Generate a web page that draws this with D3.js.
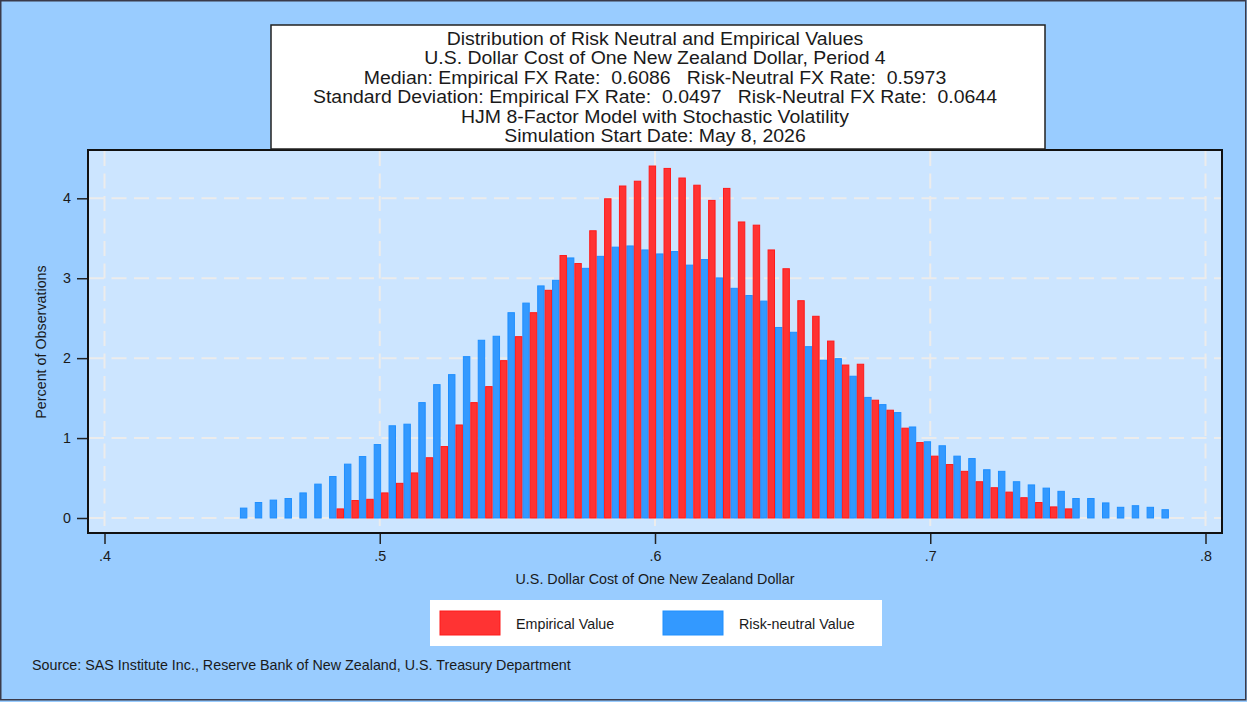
<!DOCTYPE html>
<html>
<head>
<meta charset="utf-8">
<script src="https://cdn.jsdelivr.net/npm/d3@7"></script>
<style>
  html, body { margin: 0; padding: 0; background: #99ccff; }
  svg { display: block; }
  text { font-family: "Liberation Sans", Arial, Helvetica, sans-serif; fill: #1a1a1a; }
</style>
</head>
<body>
<svg id="chart" width="1247" height="702"></svg>
<script>
// ---------------- data ----------------
const titleLines = [
  "Distribution of Risk Neutral and Empirical Values",
  "U.S. Dollar Cost of One New Zealand Dollar, Period 4",
  "Median: Empirical FX Rate:  0.6086   Risk-Neutral FX Rate:  0.5973",
  "Standard Deviation: Empirical FX Rate:  0.0497   Risk-Neutral FX Rate:  0.0644",
  "HJM 8-Factor Model with Stochastic Volatility",
  "Simulation Start Date: May 8, 2026"
];
// bin centres (USD per NZD)
const bins = [
  0.4492, 0.4546, 0.4600, 0.4654, 0.4708, 0.4762, 0.4816, 0.4870, 0.4924, 0.4978,
  0.5032, 0.5086, 0.5140, 0.5194, 0.5248, 0.5302, 0.5356, 0.5410, 0.5464, 0.5518,
  0.5572, 0.5626, 0.5680, 0.5734, 0.5788, 0.5842, 0.5896, 0.5950, 0.6004, 0.6058,
  0.6112, 0.6166, 0.6220, 0.6274, 0.6328, 0.6382, 0.6436, 0.6490, 0.6544, 0.6598,
  0.6652, 0.6706, 0.6760, 0.6814, 0.6868, 0.6922, 0.6976, 0.7030, 0.7084, 0.7138,
  0.7192, 0.7246, 0.7300, 0.7354, 0.7408, 0.7462, 0.7516, 0.7570, 0.7624, 0.7678,
  0.7732, 0.7786, 0.7840
];
// Risk-neutral value, percent of observations
const riskNeutral = [
  0.13, 0.20, 0.23, 0.25, 0.32, 0.43, 0.525, 0.68, 0.775, 0.925,
  1.16, 1.18, 1.45, 1.675, 1.80, 2.025, 2.23, 2.28, 2.575, 2.695,
  2.91, 2.98, 3.26, 3.13, 3.28, 3.395, 3.41, 3.36, 3.31, 3.34,
  3.17, 3.24, 3.01, 2.88, 2.79, 2.72, 2.39, 2.33, 2.15, 1.98,
  2.00, 1.78, 1.515, 1.425, 1.325, 1.145, 0.96, 0.91, 0.78, 0.75,
  0.61, 0.59, 0.46, 0.42, 0.38, 0.34, 0.25, 0.25, 0.195, 0.14,
  0.16, 0.14, 0.11
];
// Empirical value, percent of observations (null = no observations)
const empirical = [
  null, null, null, null, null, null, null, 0.12, 0.225, 0.24,
  0.32, 0.44, 0.57, 0.76, 0.90, 1.17, 1.45, 1.65, 1.975, 2.275,
  2.575, 2.855, 3.29, 3.19, 3.60, 4.00, 4.16, 4.22, 4.41, 4.38,
  4.26, 4.17, 3.98, 4.13, 3.71, 3.67, 3.36, 3.125, 2.725, 2.53,
  2.22, 1.92, 1.93, 1.48, 1.355, 1.13, 0.95, 0.78, 0.675, 0.59,
  0.46, 0.385, 0.33, 0.26, 0.20, 0.145, 0.12, null, null, null,
  null, null, null
];
const xTicks = [0.4, 0.5, 0.6, 0.7, 0.8];
const yTicks = [0, 1, 2, 3, 4];
const halfBin = 0.0027;
const legendItems = [
  {label: "Empirical Value", fill: "#ff3333", stroke: "#ff1a1a"},
  {label: "Risk-neutral Value", fill: "#3399ff", stroke: "#1f8fff"}
];
const xTitle = "U.S. Dollar Cost of One New Zealand Dollar";
const yTitle = "Percent of Observations";
const sourceText = "Source: SAS Institute Inc., Reserve Bank of New Zealand, U.S. Treasury Department";

// ---------------- layout ----------------
const svg = d3.select("#chart");
const W = 1247, H = 702;
const frame = {left: 88, right: 1222, top: 150, bottom: 533};
const FS = 14.3;

svg.append("rect").attr("x", 0).attr("y", 0).attr("width", W).attr("height", H).attr("fill", "#99ccff");
svg.append("rect").attr("x", 0.75).attr("y", 0.75).attr("width", W - 2).attr("height", H - 3)
  .attr("fill", "none").attr("stroke", "#3a3a4a").attr("stroke-width", 1.5);

const x = d3.scaleLinear().domain([0.4, 0.8]).range([104.5, 1205.5]);
const y = d3.scaleLinear().domain([0, 4]).range([518, 198.3]);

// plot region
svg.append("rect").attr("x", frame.left).attr("y", frame.top)
  .attr("width", frame.right - frame.left).attr("height", frame.bottom - frame.top)
  .attr("fill", "#cce5ff");

// grid
const grid = svg.append("g").attr("stroke", "#ececec").attr("stroke-width", 2).attr("stroke-dasharray", "15,7.5");
grid.selectAll("line.h").data(yTicks).join("line").attr("class", "h")
  .attr("x1", frame.left + 1).attr("x2", frame.right - 1)
  .attr("y1", d => y(d)).attr("y2", d => y(d));
grid.selectAll("line.v").data(xTicks).join("line").attr("class", "v")
  .attr("y1", frame.top + 1).attr("y2", frame.bottom - 1)
  .attr("x1", d => x(d)).attr("x2", d => x(d));

// bars
const bars = svg.append("g");
bars.selectAll("rect.rn").data(bins.map((b, i) => ({b, v: riskNeutral[i]}))).join("rect")
  .attr("class", "rn")
  .attr("x", d => x(d.b) + 0.5)
  .attr("width", d => x(d.b + halfBin) - x(d.b) - 1)
  .attr("y", d => y(d.v) + 0.5)
  .attr("height", d => y(0) - y(d.v) - 0.5)
  .attr("fill", legendItems[1].fill).attr("stroke", legendItems[1].stroke).attr("stroke-width", 1);
bars.selectAll("rect.em").data(bins.map((b, i) => ({b, v: empirical[i]})).filter(d => d.v != null)).join("rect")
  .attr("class", "em")
  .attr("x", d => x(d.b - halfBin) + 0.5)
  .attr("width", d => x(d.b) - x(d.b - halfBin) - 1)
  .attr("y", d => y(d.v) + 0.5)
  .attr("height", d => y(0) - y(d.v) - 0.5)
  .attr("fill", legendItems[0].fill).attr("stroke", legendItems[0].stroke).attr("stroke-width", 1);

// frame
svg.append("rect").attr("x", frame.left).attr("y", frame.top)
  .attr("width", frame.right - frame.left).attr("height", frame.bottom - frame.top)
  .attr("fill", "none").attr("stroke", "#111").attr("stroke-width", 2);

// axes
const yAxis = svg.append("g").attr("transform", `translate(${frame.left - 1},0)`)
  .call(d3.axisLeft(y).tickValues(yTicks).tickSize(10).tickPadding(6).tickFormat(d3.format("d")));
const xAxis = svg.append("g").attr("transform", `translate(0,${frame.bottom + 1})`)
  .call(d3.axisBottom(x).tickValues(xTicks).tickSize(10).tickPadding(7)
    .tickFormat(d => d3.format(".1f")(d).replace(/^0/, "")));
[yAxis, xAxis].forEach(a => {
  a.select(".domain").remove();
  a.selectAll(".tick line").attr("stroke", "#222").attr("stroke-width", 1.5);
  a.selectAll(".tick text").attr("font-size", FS).attr("fill", "#222")
    .style("font-family", '"Liberation Sans", Arial, sans-serif');
});

svg.append("text").attr("x", 655).attr("y", 584).attr("text-anchor", "middle")
  .attr("font-size", FS).text(xTitle);
svg.append("text").attr("transform", "translate(46,342) rotate(-90)").attr("text-anchor", "middle")
  .attr("font-size", FS).text(yTitle);

// title box
svg.append("rect").attr("x", 271).attr("y", 25).attr("width", 774).attr("height", 124)
  .attr("fill", "#fff").attr("stroke", "#222").attr("stroke-width", 1.5);
const tt = svg.append("g").selectAll("text").data(titleLines).join("text")
  .attr("x", 655).attr("y", (d, i) => 45 + i * 19.4)
  .attr("text-anchor", "middle").attr("font-size", 17.5)
  .style("white-space", "pre").text(d => d);
// condense glyphs horizontally to match the reference lettering
const refWidth = 684;
const natural = tt.nodes()[3].getComputedTextLength();
const sx = refWidth / natural;
tt.each(function() {
  const w = this.getComputedTextLength();
  d3.select(this).attr("textLength", w * sx).attr("lengthAdjust", "spacingAndGlyphs");
});

// legend
svg.append("rect").attr("x", 430).attr("y", 600).attr("width", 452).attr("height", 46).attr("fill", "#fff");
const lg = svg.append("g").selectAll("g").data(legendItems).join("g")
  .attr("transform", (d, i) => `translate(${440 + i * 223},611)`);
lg.append("rect").attr("width", 60).attr("height", 24)
  .attr("fill", d => d.fill).attr("stroke", d => d.stroke).attr("stroke-width", 1);
lg.append("text").attr("x", 76).attr("y", 17.5).attr("font-size", FS).text(d => d.label);

// source
svg.append("text").attr("x", 32).attr("y", 669.5).attr("font-size", FS).text(sourceText);
</script>
</body>
</html>
